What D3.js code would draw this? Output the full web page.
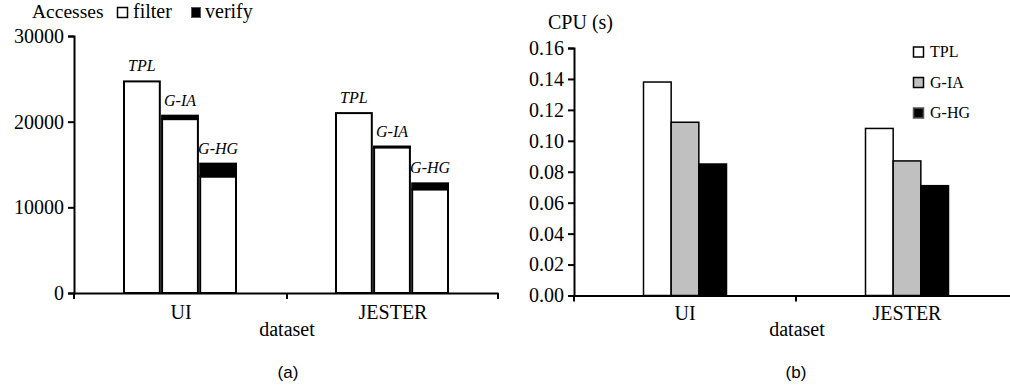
<!DOCTYPE html>
<html><head><meta charset="utf-8">
<script src="https://cdn.jsdelivr.net/npm/d3@7"></script>
<style>
html,body{margin:0;padding:0;background:#fff;}
svg{display:block;}
text{font-family:"Liberation Serif","Times New Roman",serif;fill:#000;}
</style></head>
<body>
<svg id="chart" width="1010" height="389"></svg>
<script>
// ---- data ----
const categories = ["UI", "JESTER"];
const methods = ["TPL", "G-IA", "G-HG"];
// chart (a): accesses
const filterAccesses = [[24700, 20300, 13600], [21000, 17000, 12100]];
const verifyAccesses = [[0, 400, 1500], [0, 100, 700]];
const accessTicks = [0, 10000, 20000, 30000];
// chart (b): CPU time (s)
const cpuTime = [[0.138, 0.112, 0.085], [0.108, 0.087, 0.071]];
const cpuTicks = [0, 0.02, 0.04, 0.06, 0.08, 0.10, 0.12, 0.14, 0.16];
const cpuColors = ["#ffffff", "#c0c0c0", "#000000"];

const svg = d3.select("#chart");

// ================= Chart (a) =================
const ga = svg.append("g");
const xa = d3.scaleBand().domain(categories).range([74, 498]);
const xaIn = d3.scaleBand().domain(methods).range([-56, 56]).paddingInner(0.06);
const ya = d3.scaleLinear().domain([0, 30000]).range([293, 36]);

ga.append("g").attr("transform", "translate(74,0)")
  .call(d3.axisLeft(ya).tickValues(accessTicks).tickSize(6).tickPadding(4).tickFormat(d3.format("d")));
const xAxisA = ga.append("g").attr("transform", "translate(0,293)")
  .call(d3.axisBottom(xa).tickValues([]).tickSizeOuter(0));
[74, 287, 498].forEach(x => xAxisA.append("line").attr("x1", x).attr("x2", x).attr("y1", 0).attr("y2", 6).attr("stroke", "#000").attr("stroke-width", 2));
categories.forEach(c => ga.append("text").attr("x", xa(c) + xa.bandwidth() / 2 + 1).attr("y", 319)
  .attr("text-anchor", "middle").style("font-size", "20px").text(c));
ga.append("text").attr("x", 287).attr("y", 336).attr("text-anchor", "middle").style("font-size", "20px").text("dataset");

categories.forEach((c, ci) => {
  methods.forEach((m, mi) => {
    const x = xa(c) + xa.bandwidth() / 2 + xaIn(m);
    const w = xaIn.bandwidth();
    const f = filterAccesses[ci][mi], v = verifyAccesses[ci][mi];
    ga.append("rect").attr("x", x).attr("y", ya(f)).attr("width", w).attr("height", ya(0) - ya(f))
      .attr("fill", "#fff").attr("stroke", "#000").attr("stroke-width", 2);
    if (v > 0) ga.append("rect").attr("x", x).attr("y", ya(f + v)).attr("width", w).attr("height", ya(f) - ya(f + v))
      .attr("fill", "#000").attr("stroke", "#000").attr("stroke-width", 2);
    ga.append("text").attr("x", x + w / 2).attr("y", ya(f + v) - 10).attr("text-anchor", "middle")
      .style("font-size", "16px").style("font-style", "italic").text(m);
  });
});

// legend (a)
ga.append("text").attr("x", 32).attr("y", 18).style("font-size", "19.5px").text("Accesses");
ga.append("rect").attr("x", 117.5).attr("y", 7.5).attr("width", 10).attr("height", 10).attr("fill", "#fff").attr("stroke", "#000").attr("stroke-width", 1.5);
ga.append("text").attr("x", 133).attr("y", 18).style("font-size", "20px").text("filter");
ga.append("rect").attr("x", 191.5).attr("y", 7.5).attr("width", 9).attr("height", 10).attr("fill", "#000").attr("stroke", "#555").attr("stroke-width", 1);
ga.append("text").attr("x", 205).attr("y", 18).style("font-size", "20px").text("verify");

ga.append("text").attr("x", 288).attr("y", 378).attr("text-anchor", "middle")
  .style("font-family", "'Liberation Sans', Arial, sans-serif").style("font-size", "17px").text("(a)");

// ================= Chart (b) =================
const gb = svg.append("g");
const xb = d3.scaleBand().domain(categories).range([574, 1018]);
const xbIn = d3.scaleBand().domain(methods).range([-41.5, 41.5]);
const yb = d3.scaleLinear().domain([0, 0.16]).range([295.5, 48]);

gb.append("g").attr("transform", "translate(574,0)")
  .call(d3.axisLeft(yb).tickValues(cpuTicks).tickSize(6).tickPadding(4).tickFormat(d3.format(".2f")));
const xAxisB = gb.append("g").attr("transform", "translate(0,295.5)")
  .call(d3.axisBottom(xb).tickValues([]).tickSizeOuter(0));
[574, 796].forEach(x => xAxisB.append("line").attr("x1", x).attr("x2", x).attr("y1", 0).attr("y2", 6).attr("stroke", "#000").attr("stroke-width", 2));
categories.forEach(c => gb.append("text").attr("x", xb(c) + xb.bandwidth() / 2).attr("y", 320)
  .attr("text-anchor", "middle").style("font-size", "20px").text(c));
gb.append("text").attr("x", 797).attr("y", 336).attr("text-anchor", "middle").style("font-size", "20px").text("dataset");

categories.forEach((c, ci) => {
  methods.forEach((m, mi) => {
    const x = xb(c) + xb.bandwidth() / 2 + xbIn(m);
    const v = cpuTime[ci][mi];
    gb.append("rect").attr("x", x).attr("y", yb(v)).attr("width", xbIn.bandwidth()).attr("height", yb(0) - yb(v))
      .attr("fill", cpuColors[mi]).attr("stroke", "#000").attr("stroke-width", 1.5);
  });
});

gb.append("text").attr("x", 548).attr("y", 29).style("font-size", "20px").text("CPU (s)");

methods.forEach((m, mi) => {
  const y = 47 + mi * 30.5;
  gb.append("rect").attr("x", 913.5).attr("y", y).attr("width", 10).attr("height", 10)
    .attr("fill", cpuColors[mi]).attr("stroke", mi === 2 ? "#555" : "#000").attr("stroke-width", 1.5);
  gb.append("text").attr("x", 930).attr("y", y + 10).style("font-size", "16px").text(m);
});

gb.append("text").attr("x", 796).attr("y", 378).attr("text-anchor", "middle")
  .style("font-family", "'Liberation Sans', Arial, sans-serif").style("font-size", "17px").text("(b)");

// axis styling
svg.selectAll(".domain").attr("stroke", "#000").attr("stroke-width", 2);
svg.selectAll(".tick line").attr("stroke", "#000").attr("stroke-width", 2);
svg.selectAll(".tick text").style("font-family", "'Liberation Serif','Times New Roman',serif").style("font-size", "20px").attr("fill", "#000");
</script>
</body></html>
